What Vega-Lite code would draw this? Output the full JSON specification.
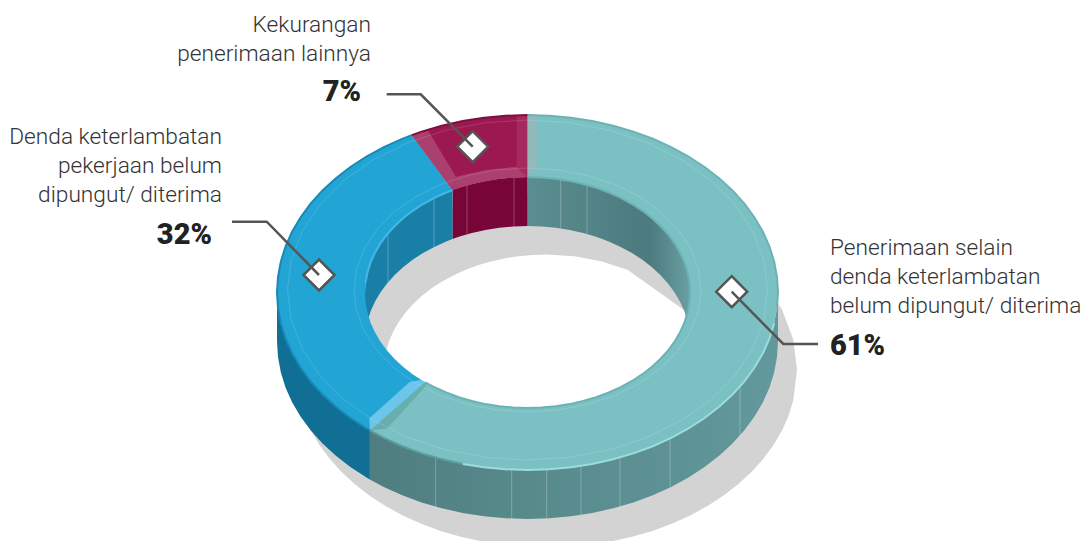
{
"$schema":"https://vega.github.io/schema/vega-lite/v6.json",
"width":1087,"height":541,"padding":0,"autosize":"none","background":"white",
"config":{"view":{"stroke":null}},
"projection":{"type":"identity","scale":1,"translate":[0,0]},
"resolve":{"scale":{"fill":"independent","stroke":"independent"}},
"datasets":{
"ring":[
{"type":"Feature","properties":{"part":"shadow"},"geometry":{"type":"Polygon","coordinates":[
[[797,370],[793.2,339.2],[781.9,309.3],[763.4,281.2],[738.4,255.9],[707.5,234],[671.8,216.3],[632.2,203.2],[590,195.2],[546.5,192.5],[503,195.2],[460.8,203.2],[421.2,216.3],[385.5,234],[354.6,255.9],[329.6,281.2],[311.1,309.3],[299.8,339.2],[296,370],[299.8,400.8],[311.1,430.7],[319.5,445],[329.6,458.8],[341.3,471.8],[354.6,484.1],[369.4,495.5],[385.5,506],[402.8,515.4],[421.2,523.7],[440.6,530.9],[460.8,536.8],[481.7,541.4],[503,544.8],[524.7,546.8],[546.5,547.5],[568.3,546.8],[590,544.8],[611.3,541.4],[632.2,536.8],[652.4,530.9],[671.8,523.7],[690.2,515.4],[707.5,506],[723.6,495.5],[738.4,484.1],[751.7,471.8],[763.4,458.8],[773.5,445],[781.9,430.7],[788.5,415.9],[793.2,400.8],[797,370]],
[[709,370],[687.2,427.8],[627.8,470],[546.5,485.5],[465.2,477.5],[405.8,427.8],[393.8,409.5],[384,370],[384.6,359.9],[386.5,349.9],[389.5,340.1],[393.8,330.5],[399.2,321.2],[405.8,312.2],[413.4,303.8],[422,295.8],[431.6,288.3],[442,281.5],[453.3,275.4],[465.2,270],[477.8,265.3],[490.9,261.5],[504.4,258.4],[518.3,256.3],[532.3,254.9],[546.5,254.5],[574.7,256.3],[602.1,261.5],[627.8,270],[687.2,312.2],[709,370]]
]}},
{"type":"Feature","properties":{"part":"inner-wall-teal","share":61},"geometry":{"type":"Polygon","coordinates":[[[690,292.5],[689.4,282.4],[687.5,272.4],[684.5,262.6],[680.2,253],[674.8,243.7],[668.2,234.7],[660.6,226.3],[652,218.3],[642.4,210.8],[632,204],[620.7,197.9],[608.8,192.5],[596.2,187.8],[583.1,184],[569.6,180.9],[555.7,178.8],[541.7,177.4],[527.5,177],[527.5,226],[541.7,226.4],[555.7,227.8],[569.6,229.9],[583.1,233],[596.2,236.8],[608.8,241.5],[620.7,246.9],[632,253],[642.4,259.8],[652,267.3],[660.6,275.3],[668.2,283.7],[674.8,292.7],[680.2,302],[684.5,311.6],[687.5,321.4],[689.4,331.4],[690,341.5],[690,292.5]]]}},
{"type":"Feature","properties":{"part":"inner-wall-maroon","share":7},"geometry":{"type":"Polygon","coordinates":[[[527.5,177],[513.3,177.4],[499.3,178.8],[485.4,180.9],[471.9,184],[458.8,187.8],[452.5,190.1],[452.5,239.1],[458.8,236.8],[471.9,233],[485.4,229.9],[499.3,227.8],[513.3,226.4],[527.5,226],[527.5,177]]]}},
{"type":"Feature","properties":{"part":"inner-wall-blue","share":32},"geometry":{"type":"Polygon","coordinates":[[[452.5,190.1],[446.2,192.5],[434.3,197.9],[423,204],[412.6,210.8],[403,218.3],[394.4,226.3],[386.8,234.7],[380.2,243.7],[374.8,253],[370.5,262.6],[367.5,272.4],[365.6,282.4],[365,292.5],[365,341.5],[365.6,331.4],[367.5,321.4],[370.5,311.6],[374.8,302],[380.2,292.7],[386.8,283.7],[394.4,275.3],[403,267.3],[412.6,259.8],[423,253],[434.3,246.9],[446.2,241.5],[452.5,239.1],[452.5,190.1]]]}},
{"type":"Feature","properties":{"part":"outer-wall-blue","share":32},"geometry":{"type":"Polygon","coordinates":[[[277,292.5],[278,308],[280.8,323.3],[285.5,338.4],[292.1,353.2],[300.5,367.5],[310.6,381.3],[322.3,394.3],[335.6,406.6],[350.4,418],[366.5,428.5],[369.9,430.4],[369.9,479.4],[366.5,477.5],[350.4,467],[335.6,455.6],[322.3,443.3],[310.6,430.3],[300.5,416.5],[292.1,402.2],[285.5,387.4],[280.8,372.3],[278,357],[277,341.5],[277,292.5]]]}},
{"type":"Feature","properties":{"part":"outer-wall-teal","share":61},"geometry":{"type":"Polygon","coordinates":[[[369.9,430.4],[383.8,437.9],[402.2,446.2],[421.6,453.4],[441.8,459.3],[462.7,463.9],[484,467.3],[505.7,469.3],[527.5,470],[549.3,469.3],[571,467.3],[592.3,463.9],[613.2,459.3],[633.4,453.4],[652.8,446.2],[671.2,437.9],[688.5,428.5],[704.6,418],[719.4,406.6],[732.7,394.3],[744.4,381.3],[754.5,367.5],[762.9,353.2],[769.5,338.4],[774.2,323.3],[777,308],[778,292.5],[778,341.5],[777,357],[774.2,372.3],[769.5,387.4],[762.9,402.2],[754.5,416.5],[744.4,430.3],[732.7,443.3],[719.4,455.6],[704.6,467],[688.5,477.5],[671.2,486.9],[652.8,495.2],[633.4,502.4],[613.2,508.3],[592.3,512.9],[571,516.3],[549.3,518.3],[527.5,519],[505.7,518.3],[484,516.3],[462.7,512.9],[441.8,508.3],[421.6,502.4],[402.2,495.2],[383.8,486.9],[369.9,479.4],[369.9,430.4]]]}},
{"type":"Feature","properties":{"part":"top-teal","share":61},"geometry":{"type":"Polygon","coordinates":[[[527.5,115],[549.3,115.7],[571,117.7],[592.3,121.1],[613.2,125.7],[633.4,131.6],[652.8,138.8],[671.2,147.1],[688.5,156.5],[704.6,167],[719.4,178.4],[732.7,190.7],[744.4,203.7],[754.5,217.5],[762.9,231.8],[769.5,246.6],[774.2,261.7],[777,277],[778,292.5],[777,308],[774.2,323.3],[769.5,338.4],[762.9,353.2],[754.5,367.5],[744.4,381.3],[732.7,394.3],[719.4,406.6],[704.6,418],[688.5,428.5],[671.2,437.9],[652.8,446.2],[633.4,453.4],[613.2,459.3],[592.3,463.9],[571,467.3],[549.3,469.3],[527.5,470],[505.7,469.3],[484,467.3],[462.7,463.9],[441.8,459.3],[421.6,453.4],[402.2,446.2],[383.8,437.9],[369.9,430.4],[425.2,382.3],[434.3,387.1],[446.2,392.5],[458.8,397.2],[471.9,401],[485.4,404.1],[499.3,406.2],[513.3,407.6],[527.5,408],[541.7,407.6],[555.7,406.2],[569.6,404.1],[583.1,401],[596.2,397.2],[608.8,392.5],[620.7,387.1],[632,381],[642.4,374.2],[652,366.7],[660.6,358.7],[668.2,350.3],[674.8,341.3],[680.2,332],[684.5,322.4],[687.5,312.6],[689.4,302.6],[690,292.5],[689.4,282.4],[687.5,272.4],[684.5,262.6],[680.2,253],[674.8,243.7],[668.2,234.7],[660.6,226.3],[652,218.3],[642.4,210.8],[632,204],[620.7,197.9],[608.8,192.5],[596.2,187.8],[583.1,184],[569.6,180.9],[555.7,178.8],[541.7,177.4],[527.5,177],[527.5,115]]]}},
{"type":"Feature","properties":{"part":"top-blue","share":32},"geometry":{"type":"Polygon","coordinates":[[[411.8,135.1],[402.2,138.8],[383.8,147.1],[366.5,156.5],[350.4,167],[335.6,178.4],[322.3,190.7],[310.6,203.7],[300.5,217.5],[292.1,231.8],[285.5,246.6],[280.8,261.7],[278,277],[277,292.5],[278,308],[280.8,323.3],[285.5,338.4],[292.1,353.2],[300.5,367.5],[310.6,381.3],[322.3,394.3],[335.6,406.6],[350.4,418],[366.5,428.5],[369.9,430.4],[425.2,382.3],[423,381],[412.6,374.2],[403,366.7],[394.4,358.7],[386.8,350.3],[380.2,341.3],[374.8,332],[370.5,322.4],[367.5,312.6],[365.6,302.6],[365,292.5],[365.6,282.4],[367.5,272.4],[370.5,262.6],[374.8,253],[380.2,243.7],[386.8,234.7],[394.4,226.3],[403,218.3],[412.6,210.8],[423,204],[434.3,197.9],[446.2,192.5],[452.5,190.1],[411.8,135.1]]]}},
{"type":"Feature","properties":{"part":"top-maroon","share":7},"geometry":{"type":"Polygon","coordinates":[[[527.5,115],[505.7,115.7],[484,117.7],[462.7,121.1],[441.8,125.7],[421.6,131.6],[411.8,135.1],[452.5,190.1],[458.8,187.8],[471.9,184],[485.4,180.9],[499.3,178.8],[513.3,177.4],[527.5,177],[527.5,115]]]}},
{"type":"Feature","properties":{"part":"bevel-maroon"},"geometry":{"type":"Polygon","coordinates":[[[411.8,135.1],[428.3,131],[456,176.7],[452.5,190.1],[411.8,135.1]]]}},
{"type":"Feature","properties":{"part":"bevel-maroon"},"geometry":{"type":"Polygon","coordinates":[[[452.5,190.1],[456,176.7],[485.4,170],[516.7,166.7],[527.5,177],[499.3,178.8],[471.9,184],[452.5,190.1]]]}},
{"type":"Feature","properties":{"part":"bevel-maroon-right"},"geometry":{"type":"Polygon","coordinates":[[[516.7,116],[527.5,115],[527.5,177],[516.7,166.7],[516.7,116]]]}},
{"type":"Feature","properties":{"part":"bevel-teal-left"},"geometry":{"type":"Polygon","coordinates":[[[527.5,115],[536.7,116],[536.7,166.7],[527.5,177],[527.5,115]]]}},
{"type":"Feature","properties":{"part":"bevel-blue"},"geometry":{"type":"Polygon","coordinates":[[[369.3,418.3],[369.9,430.4],[380,427],[425.2,382.3],[421,380],[410,381.7],[369.3,418.3]]]}},
{"type":"Feature","properties":{"part":"bevel-teal"},"geometry":{"type":"Polygon","coordinates":[[[369.9,430.4],[387,428.5],[426,386],[425.2,382.3],[369.9,430.4]]]}}
],
"rims":[
{"type":"Feature","properties":{"part":"rim-teal-top"},"geometry":{"type":"LineString","coordinates":[[527.5,115],[549.3,115.7],[571,117.7],[592.3,121.1],[613.2,125.7],[633.4,131.6],[652.8,138.8],[671.2,147.1],[688.5,156.5],[704.6,167],[719.4,178.4],[732.7,190.7],[744.4,203.7],[754.5,217.5],[762.9,231.8],[769.5,246.6],[774.2,261.7],[777,277],[778,292.5],[777,308]]}},
{"type":"Feature","properties":{"part":"rim-teal-bottom"},"geometry":{"type":"LineString","coordinates":[[462.7,463.9],[484,467.3],[505.7,469.3],[527.5,470],[549.3,469.3],[571,467.3],[592.3,463.9],[613.2,459.3],[633.4,453.4],[652.8,446.2],[671.2,437.9],[688.5,428.5],[704.6,418],[719.4,406.6],[732.7,394.3],[744.4,381.3],[754.5,367.5],[762.9,353.2],[769.5,338.4],[774.2,323.3]]}},
{"type":"Feature","properties":{"part":"rim-teal-dark"},"geometry":{"type":"LineString","coordinates":[[369.9,430.4],[383.8,437.9],[402.2,446.2],[421.6,453.4],[441.8,459.3],[462.7,463.9]]}},
{"type":"Feature","properties":{"part":"rim-blue"},"geometry":{"type":"LineString","coordinates":[[411.8,135.1],[402.2,138.8],[383.8,147.1],[366.5,156.5],[350.4,167],[335.6,178.4],[322.3,190.7],[310.6,203.7],[300.5,217.5],[292.1,231.8],[285.5,246.6],[280.8,261.7],[278,277],[277,292.5],[278,308],[280.8,323.3],[285.5,338.4],[292.1,353.2],[300.5,367.5],[310.6,381.3],[322.3,394.3],[335.6,406.6],[350.4,418],[366.5,428.5],[369.9,430.4]]}},
{"type":"Feature","properties":{"part":"rim-maroon"},"geometry":{"type":"LineString","coordinates":[[527.5,115],[505.7,115.7],[484,117.7],[462.7,121.1],[441.8,125.7],[421.6,131.6],[411.8,135.1]]}},
{"type":"Feature","properties":{"part":"rim-blue-inner"},"geometry":{"type":"LineString","coordinates":[[452.5,190.1],[446.2,192.5],[434.3,197.9],[423,204],[412.6,210.8],[403,218.3],[394.4,226.3],[386.8,234.7],[380.2,243.7],[374.8,253],[370.5,262.6],[367.5,272.4],[365.6,282.4]]}},
{"type":"Feature","properties":{"part":"rim-teal-inner"},"geometry":{"type":"LineString","coordinates":[[690,292.5],[689.4,282.4],[687.5,272.4],[684.5,262.6],[680.2,253],[674.8,243.7],[668.2,234.7],[660.6,226.3],[652,218.3],[642.4,210.8],[632,204],[620.7,197.9],[608.8,192.5],[596.2,187.8],[583.1,184],[569.6,180.9],[555.7,178.8],[541.7,177.4],[527.5,177]]}},
{"type":"Feature","properties":{"part":"rim-teal-inner"},"geometry":{"type":"LineString","coordinates":[[425.2,382.3],[434.3,387.1],[446.2,392.5],[458.8,397.2],[471.9,401],[485.4,404.1],[499.3,406.2],[513.3,407.6],[527.5,408],[541.7,407.6],[555.7,406.2],[569.6,404.1],[583.1,401],[596.2,397.2],[608.8,392.5],[620.7,387.1],[632,381],[642.4,374.2],[652,366.7],[660.6,358.7],[668.2,350.3],[674.8,341.3],[680.2,332],[684.5,322.4],[687.5,312.6],[689.4,302.6],[690,292.5]]}}
],
"hairlines":[
{"type":"Feature","properties":{"part":"hair-outer"},"geometry":{"type":"LineString","coordinates":[[767.5,290],[763.9,260.5],[753,231.9],[735.3,205],[711.4,180.7],[681.8,159.8],[647.5,142.8],[609.6,130.3],[569.2,122.6],[527.5,120],[485.8,122.6],[445.4,130.3],[407.5,142.8],[373.2,159.8],[343.6,180.7],[319.7,205],[302,231.9],[291.1,260.5],[287.5,290],[291.1,319.5],[302,348.1],[319.7,375],[343.6,399.3],[373.2,420.2],[407.5,437.2],[445.4,449.7],[485.8,457.4],[527.5,460],[569.2,457.4],[609.6,449.7],[647.5,437.2],[681.8,420.2],[711.4,399.3],[735.3,375],[753,348.1],[763.9,319.5],[767.5,290]]}},
{"type":"Feature","properties":{"part":"hair-inner"},"geometry":{"type":"LineString","coordinates":[[701,290],[698.4,268.8],[690.5,248.3],[677.8,229],[660.4,211.6],[639,196.5],[614.3,184.3],[586.8,175.4],[557.6,169.9],[527.5,168],[497.4,169.9],[468.2,175.4],[440.8,184.3],[416,196.5],[394.6,211.6],[377.2,229],[364.5,248.3],[356.6,268.8],[354,290],[356.6,311.2],[364.5,331.7],[377.2,351],[394.6,368.4],[416,383.5],[440.8,395.7],[468.2,404.6],[497.4,410.1],[527.5,412],[557.6,410.1],[586.8,404.6],[614.3,395.7],[639,383.5],[660.4,368.4],[677.8,351],[690.5,331.7],[698.4,311.2],[701,290]]}}
],
"facets":[
{"type":"Feature","properties":{"part":"facet"},"geometry":{"type":"LineString","coordinates":[[435.7,457.6],[435.7,506.6]]}},
{"type":"Feature","properties":{"part":"facet"},"geometry":{"type":"LineString","coordinates":[[511.7,469.7],[511.7,518.7]]}},
{"type":"Feature","properties":{"part":"facet"},"geometry":{"type":"LineString","coordinates":[[546.7,469.5],[546.7,518.5]]}},
{"type":"Feature","properties":{"part":"facet"},"geometry":{"type":"LineString","coordinates":[[581,465.9],[581,514.9]]}},
{"type":"Feature","properties":{"part":"facet"},"geometry":{"type":"LineString","coordinates":[[620,457.4],[620,506.4]]}},
{"type":"Feature","properties":{"part":"facet"},"geometry":{"type":"LineString","coordinates":[[670,438.4],[670,487.4]]}},
{"type":"Feature","properties":{"part":"facet"},"geometry":{"type":"LineString","coordinates":[[740,386.6],[740,435.6]]}},
{"type":"Feature","properties":{"part":"facet"},"geometry":{"type":"LineString","coordinates":[[388,233.2],[388,282.2]]}},
{"type":"Feature","properties":{"part":"facet"},"geometry":{"type":"LineString","coordinates":[[434,198],[434,247]]}},
{"type":"Feature","properties":{"part":"facet"},"geometry":{"type":"LineString","coordinates":[[467,185.3],[467,234.3]]}},
{"type":"Feature","properties":{"part":"facet"},"geometry":{"type":"LineString","coordinates":[[514,177.4],[514,226.4]]}},
{"type":"Feature","properties":{"part":"facet"},"geometry":{"type":"LineString","coordinates":[[560.7,179.4],[560.7,228.4]]}},
{"type":"Feature","properties":{"part":"facet"},"geometry":{"type":"LineString","coordinates":[[587,185.1],[587,234.1]]}}
],
"markers":[
{"type":"Feature","properties":{"share":7},"geometry":{"type":"Polygon","coordinates":[[[472.7,131.2],[488.2,146.7],[472.7,162.2],[457.2,146.7],[472.7,131.2]]]}},
{"type":"Feature","properties":{"share":32},"geometry":{"type":"Polygon","coordinates":[[[319,259.5],[334.5,275],[319,290.5],[303.5,275],[319,259.5]]]}},
{"type":"Feature","properties":{"share":61},"geometry":{"type":"Polygon","coordinates":[[[731.7,276.2],[747.2,291.7],[731.7,307.2],[716.2,291.7],[731.7,276.2]]]}}
],
"leaders":[
{"type":"Feature","properties":{"share":7},"geometry":{"type":"LineString","coordinates":[[386.7,94.3],[420.7,94.3],[472.7,146.7]]}},
{"type":"Feature","properties":{"share":32},"geometry":{"type":"LineString","coordinates":[[232,221.7],[266.7,221.7],[319,275]]}},
{"type":"Feature","properties":{"share":61},"geometry":{"type":"LineString","coordinates":[[818,344],[783.3,344],[731.7,291.7]]}}
],
"labelsRight":[
{"t":"Kekurangan","lon":371,"lat":32},
{"t":"penerimaan lainnya","lon":371,"lat":61},
{"t":"Denda keterlambatan","lon":222,"lat":144},
{"t":"pekerjaan belum","lon":222,"lat":173},
{"t":"dipungut/ diterima","lon":222,"lat":202}
],
"labelsLeft":[
{"t":"Penerimaan selain","lon":830,"lat":255},
{"t":"denda keterlambatan","lon":830,"lat":284},
{"t":"belum dipungut/ diterima","lon":830,"lat":313}
],
"sharesRight":[
{"t":"7%","share":7,"lon":361,"lat":101},
{"t":"32%","share":32,"lon":212,"lat":244}
],
"sharesLeft":[
{"t":"61%","share":61,"lon":830,"lat":355}
]
},
"layer":[
{"data":{"name":"ring"},"transform":[{"filter":"datum.properties.part==='shadow'"}],"mark":{"type":"geoshape","fill":"#d3d3d3","stroke":null}},
{"data":{"name":"ring"},"transform":[{"filter":"datum.properties.part==='inner-wall-teal'"}],"mark":{"type":"geoshape","stroke":null,"fill":{"gradient":"linear","x1":0,"x2":1,"y1":0,"y2":0,"stops":[{"offset":0,"color":"#5a8e90"},{"offset":0.75,"color":"#4c7a7e"},{"offset":1,"color":"#6aa0a3"}]}}},
{"data":{"name":"ring"},"transform":[{"filter":"datum.properties.part==='inner-wall-maroon'||datum.properties.part==='inner-wall-blue'||datum.properties.part==='outer-wall-blue'"}],"mark":{"type":"geoshape","stroke":null},"encoding":{"fill":{"field":"properties.part","type":"nominal","legend":null,"scale":{"domain":["inner-wall-maroon","inner-wall-blue","outer-wall-blue"],"range":["#780537","#1a7fa7","#116f96"]}}}},
{"data":{"name":"ring"},"transform":[{"filter":"datum.properties.part==='outer-wall-teal'"}],"mark":{"type":"geoshape","stroke":null,"fill":{"gradient":"linear","x1":0,"x2":1,"y1":0,"y2":0,"stops":[{"offset":0,"color":"#4f7d80"},{"offset":0.4,"color":"#588a8c"},{"offset":1,"color":"#62999c"}]}}},
{"data":{"name":"facets"},"mark":{"type":"geoshape","filled":false,"stroke":"#ffffff","strokeWidth":1,"strokeOpacity":0.25}},
{"data":{"name":"ring"},"transform":[{"filter":"indexof(datum.properties.part,'top-')===0||indexof(datum.properties.part,'bevel-')===0"}],"mark":{"type":"geoshape","stroke":null},"encoding":{"fill":{"field":"properties.part","type":"nominal","legend":null,"sort":null,"scale":{"domain":["top-teal","top-blue","top-maroon","bevel-maroon","bevel-maroon-right","bevel-teal-left","bevel-blue","bevel-teal"],"range":["#7bc1c4","#22a5d4","#9b1850","#ab3f6d","#a52a5e","#93b9ba","#6cc6ea","#67aeac"]}}}},
{"data":{"name":"hairlines"},"mark":{"type":"geoshape","filled":false,"stroke":"#ffffff","strokeWidth":0.7,"strokeOpacity":0.2}},
{"data":{"name":"rims"},"mark":{"type":"geoshape","filled":false,"strokeWidth":2},"encoding":{"stroke":{"field":"properties.part","type":"nominal","legend":null,"scale":{"domain":["rim-teal-top","rim-teal-bottom","rim-teal-dark","rim-blue","rim-maroon","rim-blue-inner","rim-teal-inner"],"range":["#6cb2b5","#9ddcdd","#5f9c9c","#1789b5","#7e0f42","#45b8e6","#6bb2b5"]}}}},
{"data":{"name":"markers"},"mark":{"type":"geoshape","fill":"#ffffff","stroke":"#555555","strokeWidth":2.5}},
{"data":{"name":"leaders"},"mark":{"type":"geoshape","filled":false,"stroke":"#555555","strokeWidth":2.5}},
{"data":{"name":"labelsRight"},"mark":{"type":"text","align":"right","baseline":"alphabetic","font":"Roboto","fontWeight":300,"fontSize":22.7,"color":"#333333"},"encoding":{"longitude":{"field":"lon","type":"quantitative"},"latitude":{"field":"lat","type":"quantitative"},"text":{"field":"t"}}},
{"data":{"name":"labelsLeft"},"mark":{"type":"text","align":"left","baseline":"alphabetic","font":"Roboto","fontWeight":300,"fontSize":22.7,"color":"#333333"},"encoding":{"longitude":{"field":"lon","type":"quantitative"},"latitude":{"field":"lat","type":"quantitative"},"text":{"field":"t"}}},
{"data":{"name":"sharesRight"},"mark":{"type":"text","align":"right","baseline":"alphabetic","font":"Roboto","fontWeight":900,"fontSize":29,"color":"#222222"},"encoding":{"longitude":{"field":"lon","type":"quantitative"},"latitude":{"field":"lat","type":"quantitative"},"text":{"field":"t"}}},
{"data":{"name":"sharesLeft"},"mark":{"type":"text","align":"left","baseline":"alphabetic","font":"Roboto","fontWeight":900,"fontSize":29,"color":"#222222"},"encoding":{"longitude":{"field":"lon","type":"quantitative"},"latitude":{"field":"lat","type":"quantitative"},"text":{"field":"t"}}}
]
}
